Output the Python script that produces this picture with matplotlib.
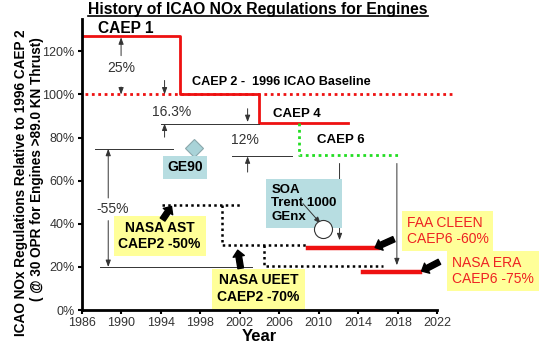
import matplotlib
matplotlib.use("Agg")
import matplotlib.pyplot as plt
from matplotlib.lines import Line2D

plt.rcParams["font.family"] = ["Liberation Sans", "DejaVu Sans"]

# regulation steps (year, % of CAEP 2)
caep_x = [1986, 1996, 1996, 2004, 2004, 2013]
caep_y = [127, 127, 100, 100, 87, 87]
baseline_x = [1986.3, 2023.5]
baseline_y = [100, 100]
caep6_x = [2008, 2008, 2018]
caep6_y = [87, 71.8, 71.8]

# research goals
ast_x = [1994.1, 2002]
ast_y = [48.6, 48.6]
ast_drop_x = [2000.2, 2000.2, 2008.9]
ast_drop_y = [48.6, 30.1, 30.1]
ueet_x = [2004.5, 2004.5, 2016.5]
ueet_y = [30.1, 20.4, 20.4]
cleen_x = [2008.9, 2016.0]
cleen_y = [28.8, 28.8]
era_x = [2014.5, 2020.2]
era_y = [17.7, 17.7]

ge90_x, ge90_y = 1997.4, 75
soa_x, soa_y = 2010.4, 37.8

xticks = list(range(1986, 2023, 4))
yticks = [0, 20, 40, 60, 80, 100, 120]

fig = plt.figure(figsize=(5.4, 3.52), dpi=100)
ax = fig.add_axes([0.151, 0.119, 0.659, 0.827])

ax.set_xlim(1986, 2022)
ax.set_ylim(0, 135)
for s in ["top", "right"]:
    ax.spines[s].set_visible(False)
for s in ["left", "bottom"]:
    ax.spines[s].set_linewidth(2)
ax.set_xticks(xticks)
ax.set_yticks(yticks)
ax.set_yticklabels([f"{v}%" for v in yticks])
ax.tick_params(direction="out", length=3, width=1.5, labelsize=9,
               labelcolor="#333333", pad=2)

# regulation lines
ax.plot(baseline_x, baseline_y, color="#ee1111", lw=2, ls=(0, (1, 1.3)),
        clip_on=False)
ax.plot(caep_x, caep_y, color="#ee1111", lw=2)
ax.plot(caep6_x, caep6_y, color="#22dd22", lw=2, ls=(0, (1, 1.3)))

dot = dict(color="black", lw=1.8, ls=(0, (1, 1.3)))
ax.plot(ast_x, ast_y, **dot)
ax.plot(ast_drop_x, ast_drop_y, **dot)
ax.plot(ueet_x, ueet_y, **dot)
ax.plot(cleen_x, cleen_y, color="#ee1111", lw=3.2)
ax.plot(era_x, era_y, color="#ee1111", lw=3.2)

# thin guide lines
thin = dict(color="#333333", lw=0.7)
ax.plot([1994.0, 2004], [86.5, 86.5], **thin)
ax.plot([2001.2, 2007.3], [71.3, 71.3], **thin)
ax.plot([1987.4, 1995.3], [74.8, 74.8], **thin)
ax.plot([1987.9, 2003.2], [20, 20], **thin)


def arrow(x0, y0, x1, y1):
    ax.annotate("", xy=(x1, y1), xytext=(x0, y0),
                arrowprops=dict(arrowstyle="-|>,head_length=0.4,head_width=0.15",
                                color="#333333", lw=0.7, shrinkA=0, shrinkB=0))


arrow(1990, 118, 1990, 126.5)
arrow(1990, 103.5, 1990, 100)
arrow(1994.4, 106.5, 1994.4, 100)
arrow(1994.4, 80.2, 1994.4, 86.5)
arrow(2002.8, 93.4, 2002.8, 87.2)
arrow(2002.8, 64, 2002.8, 71.3)
arrow(1988.7, 52, 1988.7, 74.8)
arrow(1988.7, 41.5, 1988.7, 20)
arrow(2012.1, 68, 2012.1, 32.4)
arrow(2017.9, 68, 2017.9, 20.8)

ax.text(1990, 112.5, "25%", ha="center", va="center", fontsize=10, color="#333333")
ax.text(1995.1, 91.8, "16.3%", ha="center", va="center", fontsize=10, color="#333333")
ax.text(2002.5, 78.7, "12%", ha="center", va="center", fontsize=10, color="#333333")
ax.text(1989.1, 46.8, "-55%", ha="center", va="center", fontsize=10, color="#333333")

# labels
ax.text(1987.7, 130.5, "CAEP 1", fontsize=11.2, fontweight="bold", va="center")
ax.text(1997.2, 105.6, "CAEP 2 -  1996 ICAO Baseline", fontsize=9.1,
        fontweight="bold", va="center")
ax.text(2005.4, 91, "CAEP 4", fontsize=9.5, fontweight="bold", va="center")
ax.text(2009.8, 78.7, "CAEP 6", fontsize=9.5, fontweight="bold", va="center")

# engines
ax.plot([ge90_x], [ge90_y], marker="D", ms=9, mfc="#a9d3d8", mec="#8aa8ac", mew=0.8)
ax.text(1996.5, 66.2, "GE90", fontsize=10, fontweight="bold", ha="center",
        va="center", bbox=dict(fc="#b7dde1", ec="none", pad=3))
ax.text(2005.2, 49.5, "SOA\nTrent 1000\nGEnx", fontsize=9.5, fontweight="bold",
        va="center", linespacing=1.15,
        bbox=dict(fc="#b7dde1", ec="none", boxstyle="square,pad=0.4"))
ax.plot([soa_x], [soa_y], marker="o", ms=13, mfc="white", mec="#333333", mew=0.8,
        zorder=5)
arrow(2008.4, 49.4, 2010.2, 40.1)

# goal boxes
ax.text(1993.9, 34.3, "NASA AST\nCAEP2 -50%", fontsize=10, fontweight="bold",
        ha="center", va="center", linespacing=1.2,
        bbox=dict(fc="#ffff99", ec="none", boxstyle="square,pad=0.35"))
ax.text(2003.9, 10, "NASA UEET\nCAEP2 -70%", fontsize=10, fontweight="bold",
        ha="center", va="center", linespacing=1.2,
        bbox=dict(fc="#ffff99", ec="none", boxstyle="square,pad=0.35"))
ax.text(2018.9, 36.8, "FAA CLEEN\nCAEP6 -60%", fontsize=10, color="#ee2222",
        va="center", linespacing=1.2, clip_on=False,
        bbox=dict(fc="#ffff99", ec="none", boxstyle="square,pad=0.35"))
ax.text(2023.5, 18.3, "NASA ERA\nCAEP6 -75%", fontsize=10, color="#ee2222",
        va="center", linespacing=1.2, clip_on=False,
        bbox=dict(fc="#ffff99", ec="none", boxstyle="square,pad=0.35"))


def fat_arrow(x0, y0, x1, y1):
    ax.annotate("", xy=(x1, y1), xytext=(x0, y0), annotation_clip=False,
                arrowprops=dict(arrowstyle="simple,head_length=0.5,head_width=0.9,tail_width=0.45",
                                fc="black", ec="black", mutation_scale=9,
                                shrinkA=0, shrinkB=0))


fat_arrow(1994.2, 42.0, 1995.1, 48.1)
fat_arrow(2002.1, 19.4, 2001.8, 27.8)
fat_arrow(2017.6, 32.9, 2015.7, 29.0)
fat_arrow(2022.2, 22.4, 2020.4, 18.1)

ax.set_xlabel("Year", fontsize=12, fontweight="bold", labelpad=0)

fig.text(0.038, 0.48, "ICAO NOx Regulations Relative to 1996 CAEP 2",
         rotation=90, ha="center", va="center", fontsize=9.8, fontweight="bold")
fig.text(0.068, 0.52, "( @ 30 OPR for Engines >89.0 KN Thrust)",
         rotation=90, ha="center", va="center", fontsize=9.8, fontweight="bold")

title = fig.text(0.478, 0.973, "History of ICAO NOx Regulations for Engines",
                 ha="center", va="center", fontsize=11.3, fontweight="bold")
fig.canvas.draw()
bb = title.get_window_extent().transformed(fig.transFigure.inverted())
fig.add_artist(Line2D([bb.x0, bb.x1], [bb.y0 + 0.003, bb.y0 + 0.003],
                      color="black", lw=1.2, transform=fig.transFigure))

fig.savefig("out.png", dpi=100)
